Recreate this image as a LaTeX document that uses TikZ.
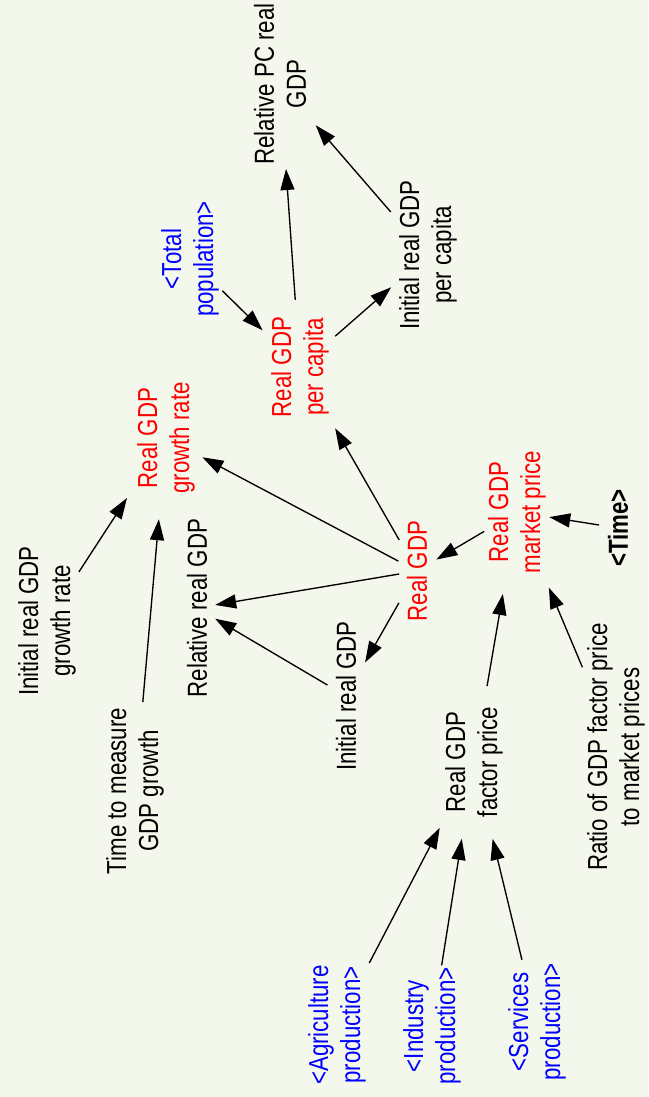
\documentclass[tikz,border=0pt]{standalone}
\usepackage{fontspec}
\setmainfont{Liberation Sans}[FakeStretch=0.81]
\usetikzlibrary{arrows.meta}
\definecolor{bg}{RGB}{243,247,236}
\definecolor{vred}{RGB}{255,0,0}
\definecolor{vblue}{RGB}{0,0,255}
\begin{document}
\begin{tikzpicture}[x=1pt,y=-1pt,
  lab/.style={rotate=90, align=center, inner sep=0pt, font=\fontsize{27.5}{32}\selectfont},
  redlab/.style={lab, text=vred},
  bluelab/.style={lab, text=vblue},
  arr/.style={-{Triangle[length=21pt,width=14pt]}, line width=1.35pt, black},
]
\fill[bg] (0,0) rectangle (648,1097);
\useasboundingbox (0,0) rectangle (648,1097);

\node[lab] (RPC) at (280,84) {Relative PC real\\GDP};
\node[lab] (IPC) at (428,255) {Initial real GDP\\per capita};
\node[bluelab] (TP) at (190,259) {<Total\\population>};
\node[redlab] (PC) at (300,367) {Real GDP\\per capita};
\node[redlab] (GR) at (166,438) {Real GDP\\growth rate};
\node[lab] (IGR) at (47,621) {Initial real GDP\\growth rate};
\node[lab] (RR) at (197,608) {Relative real GDP};
\node[redlab] (RG) at (417,571) {Real GDP};
\node[redlab] (MP) at (517,512) {Real GDP\\market price};
\node[lab, font=\fontsize{27.5}{32}\selectfont\bfseries] (TM) at (618,528) {<Time>};
\node[lab] (IRG) at (346,696) {Initial real GDP};
\node[lab] (TTM) at (135,791) {Time to measure\\GDP growth};
\node[lab] (FP) at (474,762) {Real GDP\\factor price};
\node[lab] (RATIO) at (616,747) {Ratio of GDP factor price\\to market prices};
\node[bluelab] (AG) at (337,1025) {<Agriculture\\production>};
\node[bluelab] (IN) at (432,1026) {<Industry\\production>};
\node[bluelab] (SV) at (537,1022) {<Services\\production>};

\draw[arr, shorten <=67.3pt, shorten >=85.2pt] (PC.center) -- (RPC.center);
\draw[arr, shorten <=56.9pt, shorten >=54.6pt] (IPC.center) -- (RPC.center);
\draw[arr, shorten <=46.8pt, shorten >=49.0pt] (PC.center) -- (IPC.center);
\draw[arr, shorten <=45.3pt, shorten >=52.4pt] (TP.center) -- (PC.center);
\draw[arr, shorten <=35.8pt, shorten >=70.7pt] (RG.center) -- (PC.center);
\draw[arr, shorten <=21.1pt, shorten >=41.2pt] (RG.center) -- (GR.center);
\draw[arr, shorten <=18.1pt, shorten >=18.4pt] (RG.center) -- (RR.center);
\draw[arr, shorten <=36.7pt, shorten >=38.6pt] (RG.center) -- (IRG.center);
\draw[arr, shorten <=21.6pt, shorten >=21.1pt] (IRG.center) -- (RR.center);
\draw[arr, shorten <=58.5pt, shorten >=71.6pt] (IGR.center) -- (GR.center);
\draw[arr, shorten <=89.3pt, shorten >=81.5pt] (TTM.center) -- (GR.center);
\draw[arr, shorten <=38.1pt, shorten >=22.5pt] (MP.center) -- (RG.center);
\draw[arr, shorten <=19.2pt, shorten >=32.6pt] (TM.center) -- (MP.center);
\draw[arr, shorten <=77.1pt, shorten >=83.2pt] (FP.center) -- (MP.center);
\draw[arr, shorten <=86.5pt, shorten >=82.1pt] (RATIO.center) -- (MP.center);
\draw[arr, shorten <=69.8pt, shorten >=74.2pt] (AG.center) -- (FP.center);
\draw[arr, shorten <=61.4pt, shorten >=77.9pt] (IN.center) -- (FP.center);
\draw[arr, shorten <=64.0pt, shorten >=79.1pt] (SV.center) -- (FP.center);
\end{tikzpicture}
\end{document}
